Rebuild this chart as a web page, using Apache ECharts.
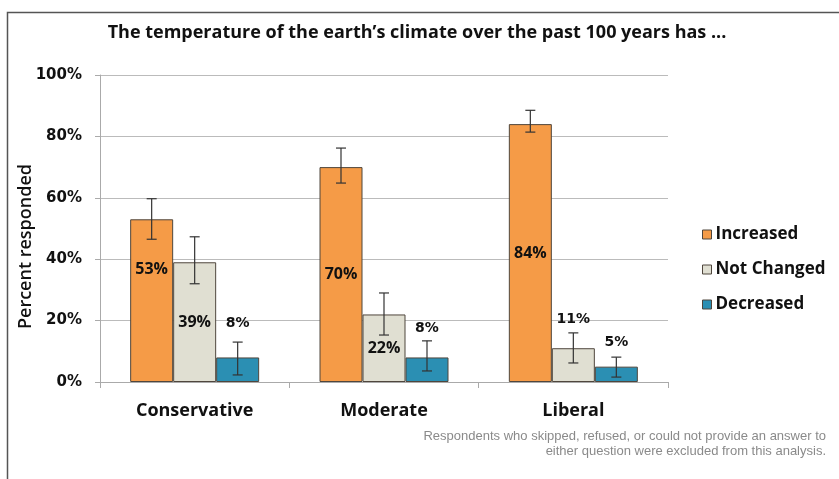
<!DOCTYPE html>
<html><head><meta charset="utf-8">
<script src="https://cdn.jsdelivr.net/npm/echarts@6/dist/echarts.min.js"></script>
<style>html,body{margin:0;padding:0;background:#fff}#c{width:839px;height:479px}</style>
</head><body><div id="c"></div>
<script>
const categories = ['Conservative', 'Moderate', 'Liberal'];
const seriesNames = ['Increased', 'Not Changed', 'Decreased'];
const increased = [53, 70, 84];
const notChanged = [39, 22, 11];
const decreased = [8, 8, 5];
const increasedErr = [[46.5, 59.7], [64.8, 76.2], [81.4, 88.5]];
const notChangedErr = [[32, 47.3], [15.3, 29], [6.2, 16]];
const decreasedErr = [[2.3, 13], [3.6, 13.4], [1.6, 8.1]];
const yTicks = [0, 20, 40, 60, 80, 100];
const footnoteLines = ['Respondents who skipped, refused, or could not provide an answer to', 'either question were excluded from this analysis.'];

const colors = ['#F59B47', '#E0DFD2', '#2B8FB3'];
const BAR_W = 43;
const values = [increased, notChanged, decreased];
const errs = [increasedErr, notChangedErr, decreasedErr];
const FONT = 'Open Sans';

const labelCfg = [
  [{position: 'inside', offset: [0, -31]}, {position: 'inside'}, {position: 'inside'}],
  [{position: 'inside'}, {position: 'inside'}, {position: 'top', distance: 22, font: 'DejaVu Sans', size: 14}],
  [{position: 'top', distance: 27, font: 'DejaVu Sans', size: 14}, {position: 'top', distance: 22, font: 'DejaVu Sans', size: 14}, {position: 'top', distance: 17, font: 'DejaVu Sans', size: 14}]
];

const barSeries = values.map((vals, s) => ({
  name: seriesNames[s],
  type: 'bar',
  barWidth: BAR_W,
  barGap: '0%',
  itemStyle: {color: colors[s], borderColor: '#4f463d', borderWidth: 1},
  data: vals.map((v, i) => {
    const c = labelCfg[s][i];
    return {
      value: v,
      label: {
        show: true,
        position: c.position,
        distance: c.distance || 5,
        offset: c.offset || [0, 0],
        formatter: '{c}%',
        color: '#111',
        fontWeight: 'bold',
        fontFamily: c.font || FONT,
        fontSize: c.size || 16
      }
    };
  })
}));

const errSeries = errs.map((arr, s) => ({
  type: 'custom',
  name: seriesNames[s] + ' err',
  z: 5,
  silent: true,
  renderItem: function (params, api) {
    const cat = api.value(0);
    const lo = api.coord([cat, api.value(1)]);
    const hi = api.coord([cat, api.value(2)]);
    const x = lo[0] + (s - 1) * BAR_W;
    const cap = 5;
    const st = {stroke: '#333', lineWidth: 1.2};
    return {
      type: 'group',
      children: [
        {type: 'line', shape: {x1: x, y1: lo[1], x2: x, y2: hi[1]}, style: st},
        {type: 'line', shape: {x1: x - cap, y1: lo[1], x2: x + cap, y2: lo[1]}, style: st},
        {type: 'line', shape: {x1: x - cap, y1: hi[1], x2: x + cap, y2: hi[1]}, style: st}
      ]
    };
  },
  data: arr.map((e, i) => [i, e[0], e[1]])
}));

const chart = echarts.init(document.getElementById('c'), null, {renderer: 'canvas'});
chart.setOption({
  animation: false,
  backgroundColor: '#fff',
  title: {
    text: 'The temperature of the earth\u2019s climate over the past 100 years has ...',
    left: 412, top: 19, textAlign: 'center',
    textStyle: {fontFamily: FONT, fontWeight: 'bold', fontSize: 18, color: '#111'}
  },
  legend: {
    data: seriesNames,
    orient: 'vertical',
    left: 697, top: 221,
    itemGap: 18,
    itemWidth: 9, itemHeight: 9,
    icon: 'rect',
    itemStyle: {borderColor: '#4f463d', borderWidth: 1},
    textStyle: {fontFamily: FONT, fontWeight: 'bold', fontSize: 17, color: '#111', padding: [0, 0, 0, -1]}
  },
  grid: {left: 100, right: 171, top: 75, bottom: 97},
  xAxis: {
    type: 'category',
    data: categories,
    axisLine: {lineStyle: {color: '#aaa'}},
    axisTick: {show: true, length: 6, lineStyle: {color: '#aaa'}},
    axisLabel: {margin: 20, fontFamily: FONT, fontWeight: 'bold', fontSize: 18, color: '#111'}
  },
  yAxis: {
    type: 'value', min: 0, max: 100, interval: 20,
    name: 'Percent responded', nameLocation: 'middle', nameGap: 65, nameRotate: 90,
    nameMoveOverlap: false,
    nameTextStyle: {fontFamily: FONT, fontWeight: 600, fontSize: 18, color: '#111', padding: [0, 0, 0, -36]},
    axisLine: {show: true, lineStyle: {color: '#aaa'}},
    axisTick: {show: true, length: 5, lineStyle: {color: '#aaa'}},
    axisLabel: {margin: 18, formatter: v => yTicks.includes(v) ? v + '%' : '', fontFamily: 'DejaVu Sans', fontWeight: 'bold', fontSize: 15, color: '#111'},
    splitLine: {lineStyle: {color: '#bbb'}}
  },
  graphic: [
    {type: 'rect', left: 5, top: 10, shape: {width: 860, height: 500}, style: {fill: 'none', stroke: '#555', lineWidth: 1.5}, z: 100},
    {type: 'text', right: 13, top: 430, style: {text: footnoteLines[0], fill: '#8a8a8a', font: '13px "Liberation Sans"'}},
    {type: 'text', right: 13, top: 445, style: {text: footnoteLines[1], fill: '#8a8a8a', font: '13px "Liberation Sans"'}}
  ],
  series: barSeries.concat(errSeries)
});
</script>
</body></html>
